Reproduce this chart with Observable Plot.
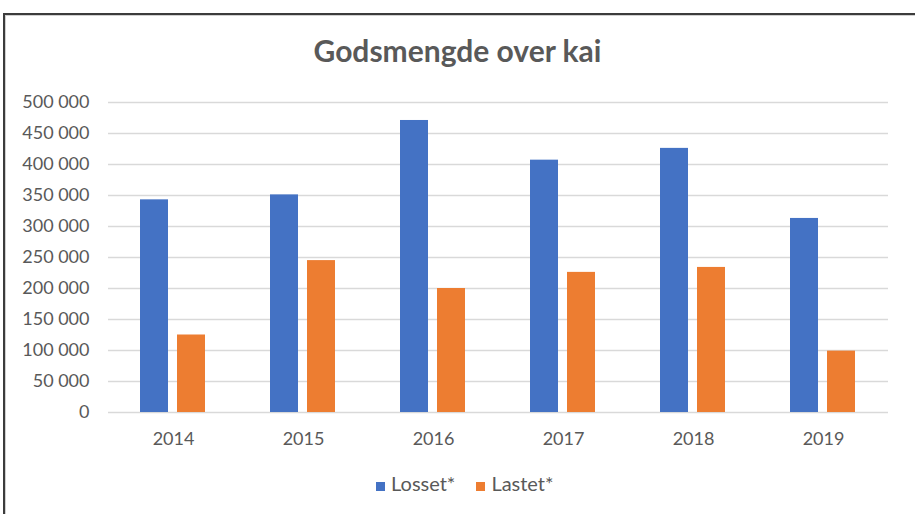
<!DOCTYPE html>
<html>
<head>
<meta charset="utf-8">
<script src="https://cdn.jsdelivr.net/npm/d3@7"></script>
<script src="https://cdn.jsdelivr.net/npm/@observablehq/plot@0.6"></script>
<style>
  html, body { margin: 0; padding: 0; background: #fff; }
  #wrap { position: relative; width: 915px; height: 514px; overflow: hidden; font-family: Lato, "Open Sans", sans-serif; color: #595959; }
  #frame { position: absolute; left: 3px; top: 13px; right: 0; bottom: -10px; border-top: 2px solid #3c3c3c; border-left: 2px solid #3c3c3c; box-shadow: inset 1px 1px 0 #d0d0d0; }
  #title { position: absolute; left: 0; width: 915px; top: 35px; text-align: center; font-weight: bold; font-size: 30px; line-height: 30px; color: #595959; }
  #chart { position: absolute; left: 0; top: 90px; }
  #legend { position: absolute; left: 376px; top: 473px; font-size: 20px; line-height: 20px; white-space: nowrap; color: #595959; }
  #legend .sw { display: inline-block; width: 9px; height: 9px; margin-right: 6px; vertical-align: baseline; }
  #legend .item { margin-right: 21px; }
</style>
</head>
<body>
<div id="wrap">
  <div id="frame"></div>
  <div id="title">Godsmengde over kai</div>
  <div id="chart"></div>
  <div id="legend"></div>
</div>
<script>
const years = ["2014", "2015", "2016", "2017", "2018", "2019"];
const series = ["Losset*", "Lastet*"];
const losset = [343000, 351000, 471000, 407000, 426000, 313000];
const lastet = [125000, 245000, 200000, 226000, 234000, 99000];
const yTicks = [0, 50000, 100000, 150000, 200000, 250000, 300000, 350000, 400000, 450000, 500000];
const colors = ["#4472C4", "#ED7D31"];

const data = years.flatMap((yr, i) => [
  {year: yr, series: series[0], value: losset[i]},
  {year: yr, series: series[1], value: lastet[i]}
]);

const fmt = d => d3.format(",")(d).replace(/,/g, "\u00a0");

const chart = Plot.plot({
  width: 915,
  height: 362,
  marginTop: 12,
  marginBottom: 40,
  marginLeft: 107,
  marginRight: 27,
  style: {fontFamily: "Lato, 'Open Sans', sans-serif", fontSize: "18px", color: "#595959", background: "transparent", overflow: "visible"},
  fx: {domain: years, padding: 0, label: null},
  x: {domain: series, paddingInner: 0.243, paddingOuter: 0.878, axis: null},
  y: {domain: [0, 500000], label: null},
  color: {domain: series, range: colors},
  marks: [
    Plot.ruleY(yTicks, {stroke: "#d9d9d9", strokeWidth: 1.3}),
    Plot.barY(data, {fx: "year", x: "series", y: "value", fill: "series"}),
    Plot.axisY({ticks: yTicks, tickSize: 0, tickPadding: 19, tickFormat: fmt, label: null, fontSize: 18}),
    Plot.axisFx({anchor: "bottom", tickSize: 0, tickPadding: 20, label: null, fontSize: 18})
  ]
});
document.getElementById("chart").appendChild(chart);

const legend = document.getElementById("legend");
series.forEach((s, i) => {
  const item = document.createElement("span");
  item.className = "item";
  const sw = document.createElement("span");
  sw.className = "sw";
  sw.style.background = colors[i];
  item.appendChild(sw);
  item.appendChild(document.createTextNode(s));
  legend.appendChild(item);
});
</script>
</body>
</html>
